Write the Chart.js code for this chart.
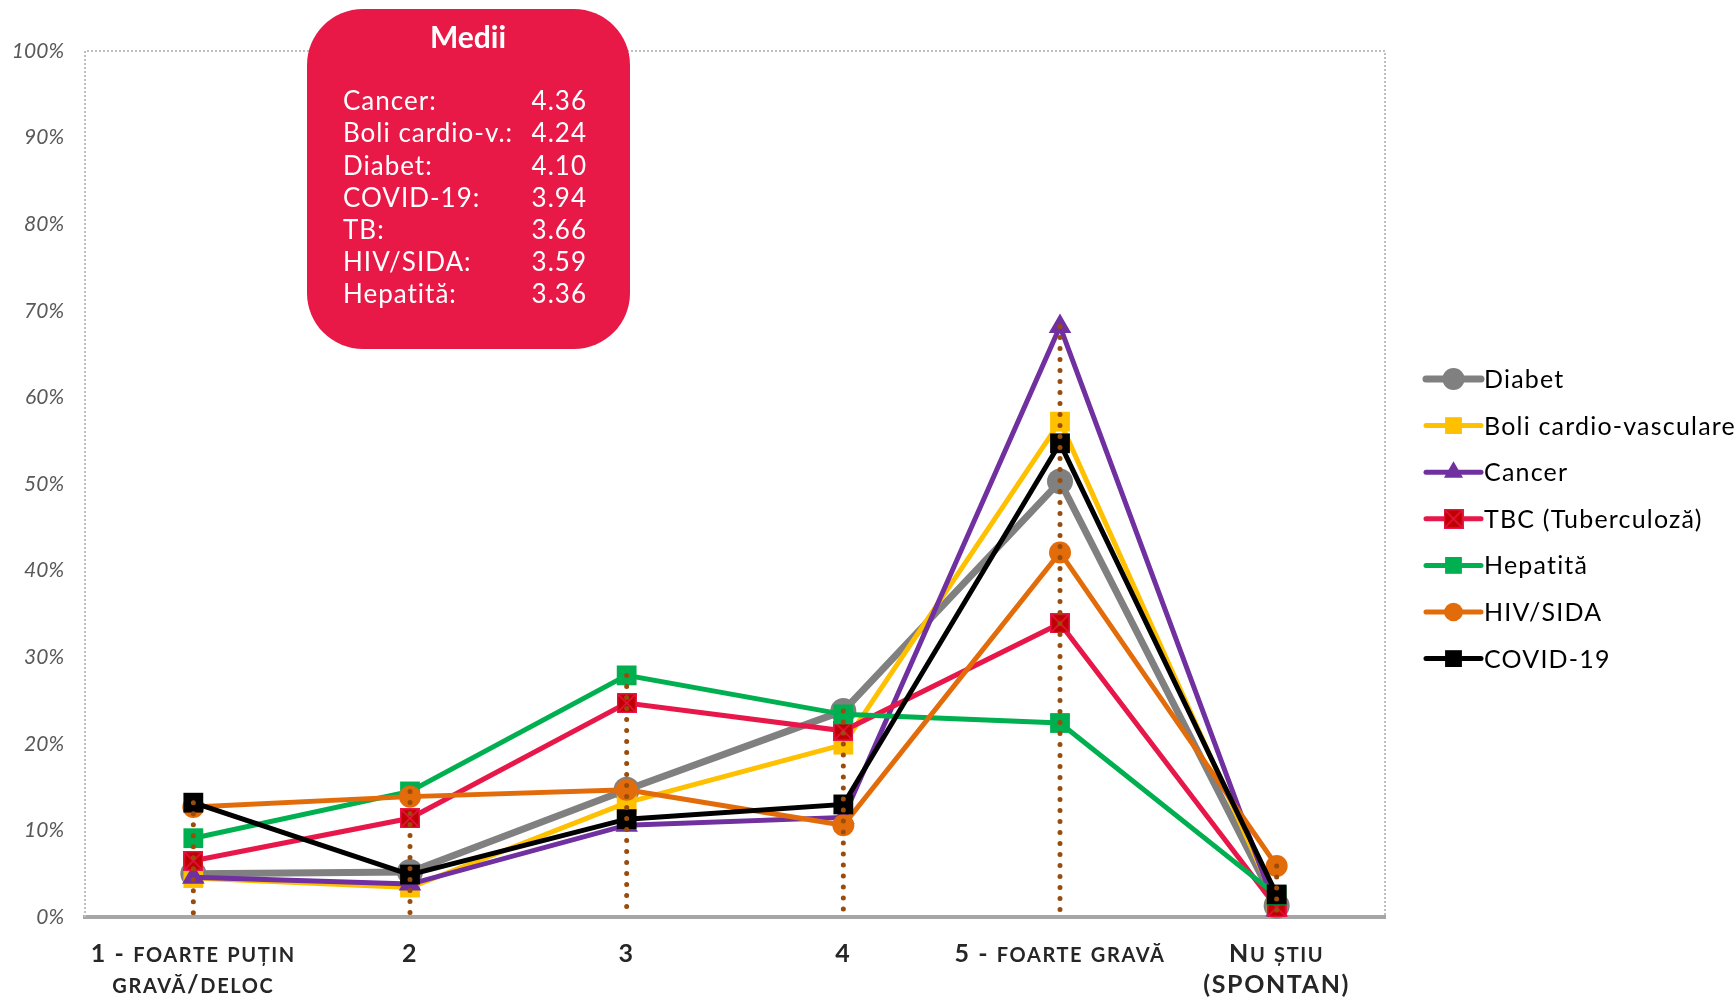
<!DOCTYPE html>
<html>
<head>
<meta charset="utf-8">
<script src="https://cdn.jsdelivr.net/npm/chart.js@4.4.0/dist/chart.umd.min.js"></script>
<style>
  html, body { margin: 0; padding: 0; background: #fff; }
  #wrap { width: 1736px; height: 999px; }
</style>
</head>
<body>
<div id="wrap"><canvas id="chart" width="1736" height="999"></canvas></div>
<script>
// Categories (x axis), one entry per line of the label
const categories = ['1', '2', '3', '4', '5', 'NS'];
const categoryLabels = [
  ['1 - foarte puțin', 'gravă/deloc'],
  ['2'],
  ['3'],
  ['4'],
  ['5 - foarte gravă'],
  ['Nu știu', '(SPONTAN)']
];

// Series values (%)
const diabet   = [5.0, 5.2, 14.7, 23.8, 50.3, 1.3];
const boliCV   = [4.5, 3.4, 13.2, 19.9, 57.2, 1.5];
const cancer   = [4.6, 3.8, 10.6, 11.5, 68.2, 0.8];
const tbc      = [6.5, 11.4, 24.7, 21.5, 33.9, 1.1];
const hepatita = [9.1, 14.5, 27.9, 23.4, 22.4, 2.5];
const hivSida  = [12.7, 13.9, 14.7, 10.6, 42.1, 5.9];
const covid    = [13.2, 4.9, 11.3, 13.0, 54.7, 2.6];

// Y axis ticks
const yTicks = [0, 10, 20, 30, 40, 50, 60, 70, 80, 90, 100];

// "Medii" box
const mediiNames  = ['Cancer:', 'Boli cardio-v.:', 'Diabet:', 'COVID-19:', 'TB:', 'HIV/SIDA:', 'Hepatită:'];
const mediiValues = [4.36, 4.24, 4.10, 3.94, 3.66, 3.59, 3.36];

const FONT = 'Lato, "Open Sans", "DejaVu Sans", sans-serif';

// TBC marker: dark red square with a pink X
function makeTbcMarker() {
  const c = document.createElement('canvas');
  c.width = 20; c.height = 20;
  const g = c.getContext('2d');
  g.fillStyle = '#C00000';
  g.fillRect(0, 0, 20, 20);
  g.strokeStyle = '#E8174A';
  g.lineWidth = 1.5;
  g.strokeRect(0.75, 0.75, 18.5, 18.5);
  g.beginPath();
  g.moveTo(2, 2); g.lineTo(18, 18);
  g.moveTo(18, 2); g.lineTo(2, 18);
  g.stroke();
  return c;
}
const tbcMarker = makeTbcMarker();

const series = [
  { label: 'Diabet', data: diabet, color: '#808080', width: 7, style: 'circle', radius: 13 },
  { label: 'Boli cardio-vasculare', data: boliCV, color: '#FFC000', width: 5, style: 'rect', radius: 14 },
  { label: 'Cancer', data: cancer, color: '#7030A0', width: 5, style: 'triangle', radius: 13 },
  { label: 'TBC (Tuberculoză)', data: tbc, color: '#E8174A', width: 5, style: tbcMarker, radius: 10 },
  { label: 'Hepatită', data: hepatita, color: '#00B050', width: 5, style: 'rect', radius: 14 },
  { label: 'HIV/SIDA', data: hivSida, color: '#E36C0A', width: 5, style: 'circle', radius: 11 },
  { label: 'COVID-19', data: covid, color: '#000000', width: 5, style: 'rect', radius: 14 }
];

const datasets = series.map((s, i) => ({
  label: s.label,
  data: s.data,
  borderColor: s.color,
  backgroundColor: s.color,
  borderWidth: s.width,
  pointStyle: s.style,
  pointRadius: s.radius,
  pointHoverRadius: s.radius,
  pointBorderWidth: 0,
  pointBackgroundColor: s.color,
  tension: 0,
  clip: false,
  order: series.length - 1 - i   // last series on top, like the original
}));

// dotted frame on top, left and right of the plot area
const framePlugin = {
  id: 'frame',
  beforeDatasetsDraw(chart) {
    const { ctx, chartArea: a } = chart;
    ctx.save();
    ctx.strokeStyle = '#BFBFBF';
    ctx.lineWidth = 2;
    ctx.setLineDash([2, 2]);
    ctx.beginPath();
    ctx.moveTo(a.left, a.bottom);
    ctx.lineTo(a.left, a.top);
    ctx.lineTo(a.right, a.top);
    ctx.lineTo(a.right, a.bottom);
    ctx.stroke();
    ctx.restore();
  }
};

// brown dotted drop lines from the highest point of each category to 0
const dropLinesPlugin = {
  id: 'dropLines',
  afterDatasetsDraw(chart) {
    const { ctx, scales: { x, y } } = chart;
    ctx.save();
    ctx.strokeStyle = '#994C0C';
    ctx.lineWidth = 5;
    ctx.lineCap = 'round';
    ctx.setLineDash([0, 11]);
    categories.forEach((c, i) => {
      const top = Math.max(...series.map(s => s.data[i]));
      const px = x.getPixelForValue(i);
      ctx.beginPath();
      ctx.moveTo(px, y.getPixelForValue(top));
      ctx.lineTo(px, y.getPixelForValue(0) - 2);
      ctx.stroke();
    });
    ctx.restore();
  }
};

// small-caps bold category labels
function drawSmallCaps(ctx, text, cx, baseline, big, small) {
  const parts = [];
  for (const ch of text) {
    const low = ch !== ch.toUpperCase();
    const last = parts[parts.length - 1];
    const t = low ? ch.toUpperCase() : ch;
    if (last && last.low === low) last.t += t;
    else parts.push({ low, t });
  }
  let total = 0;
  parts.forEach(p => {
    ctx.font = 'bold ' + (p.low ? small : big) + 'px ' + FONT;
    p.w = ctx.measureText(p.t).width;
    total += p.w;
  });
  let px = cx - total / 2;
  parts.forEach(p => {
    ctx.font = 'bold ' + (p.low ? small : big) + 'px ' + FONT;
    ctx.fillText(p.t, px, baseline);
    px += p.w;
  });
}

const xLabelsPlugin = {
  id: 'xLabels',
  afterDraw(chart) {
    const { ctx, scales: { x } } = chart;
    ctx.save();
    ctx.fillStyle = '#262626';
    ctx.textAlign = 'left';
    ctx.textBaseline = 'alphabetic';
    ctx.letterSpacing = '1.6px';
    categoryLabels.forEach((lines, i) => {
      const cx = x.getPixelForValue(i);
      lines.forEach((line, j) => {
        drawSmallCaps(ctx, line, cx, 962 + j * 31, 25, 20);
      });
    });
    ctx.restore();
  }
};

// legend on the right: line sample with marker in the middle
const legendPlugin = {
  id: 'sideLegend',
  afterDraw(chart) {
    const { ctx } = chart;
    const x0 = 1426, x1 = 1481, top = 379, step = 46.6;
    ctx.save();
    series.forEach((s, i) => {
      const yy = top + i * step;
      ctx.strokeStyle = s.color;
      ctx.lineWidth = s.width;
      ctx.lineCap = 'round';
      ctx.beginPath();
      ctx.moveTo(x0, yy);
      ctx.lineTo(x1, yy);
      ctx.stroke();
      ctx.fillStyle = s.color;
      Chart.helpers.drawPoint(ctx, {
        pointStyle: s.style, radius: s.radius * 0.85, rotation: 0, borderWidth: 0
      }, (x0 + x1) / 2, yy);
      ctx.fillStyle = '#000';
      ctx.font = '25px ' + FONT;
      ctx.letterSpacing = '1.2px';
      ctx.textAlign = 'left';
      ctx.textBaseline = 'middle';
      ctx.fillText(s.label, x1 + 3, yy + 1);
      ctx.letterSpacing = '0px';
    });
    ctx.restore();
  }
};

// red rounded box with the means
const mediiPlugin = {
  id: 'medii',
  afterDraw(chart) {
    const { ctx } = chart;
    ctx.save();
    ctx.fillStyle = '#E81946';
    ctx.beginPath();
    ctx.roundRect(307, 9, 323, 340, 56);
    ctx.fill();
    ctx.fillStyle = '#fff';
    ctx.textBaseline = 'middle';
    ctx.textAlign = 'center';
    ctx.font = 'bold 30px ' + FONT;
    ctx.fillText('Medii', 468, 38);
    ctx.font = '26px ' + FONT;
    ctx.letterSpacing = '1px';
    mediiNames.forEach((n, i) => {
      const yy = 102 + i * 32.1;
      ctx.textAlign = 'left';
      ctx.fillText(n, 343, yy);
      ctx.textAlign = 'right';
      ctx.fillText(mediiValues[i].toFixed(2), 587, yy);
    });
    ctx.restore();
  }
};

new Chart(document.getElementById('chart'), {
  type: 'line',
  data: { labels: categories, datasets },
  options: {
    responsive: false,
    animation: false,
    layout: { padding: { left: 0, top: 51, right: 351, bottom: 0 } },
    plugins: {
      legend: { display: false },
      tooltip: { enabled: false }
    },
    scales: {
      x: {
        type: 'category',
        offset: true,
        grid: { display: false },
        border: { display: true, color: '#A6A6A6', width: 4 },
        ticks: { display: false },
        afterFit(scale) { scale.height = 82; }
      },
      y: {
        min: 0,
        max: 100,
        grid: { display: false, drawTicks: false },
        border: { display: false },
        afterBuildTicks(scale) { scale.ticks = yTicks.map(v => ({ value: v })); },
        ticks: {
          padding: 21,
          color: '#595959',
          font: { family: FONT, style: 'italic', size: 21 },
          callback: v => v + '%'
        },
        afterFit(scale) { scale.width = 85; }
      }
    }
  },
  plugins: [framePlugin, dropLinesPlugin, xLabelsPlugin, legendPlugin, mediiPlugin]
});
</script>
</body>
</html>
